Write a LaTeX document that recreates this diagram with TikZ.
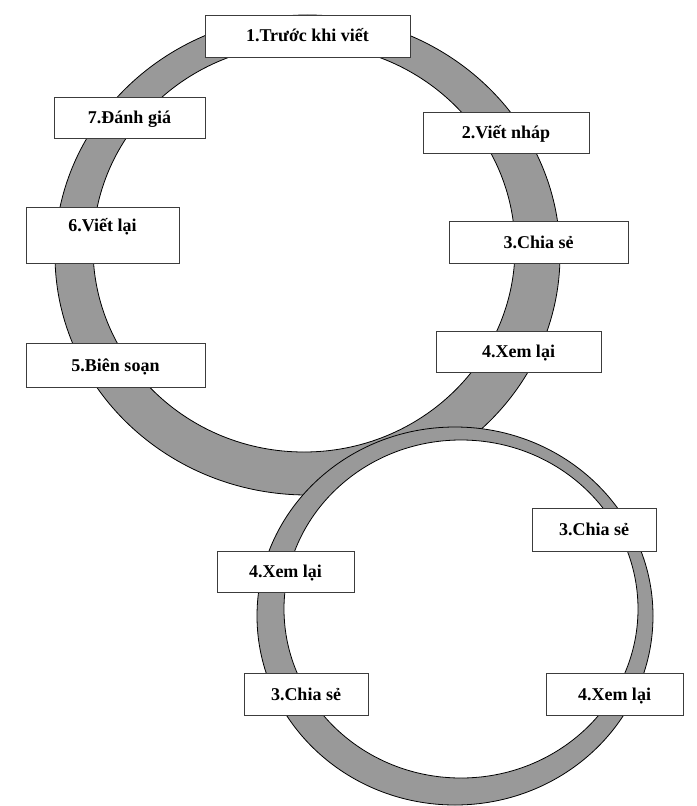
\documentclass[tikz,border=0pt]{standalone}
\usepackage{fontspec}
\setmainfont{Liberation Serif}
\usepackage{xcolor}
\usepackage{tikz}
\definecolor{ringgray}{RGB}{153,153,153}
\definecolor{boxline}{RGB}{60,60,60}

\begin{document}
\begin{tikzpicture}[x=1bp,y=-1bp,
    ring/.style={fill=ringgray, draw=black, line width=0.8bp},
    box/.style={draw=boxline, fill=white, line width=0.9bp, inner sep=0pt,
        text height=12bp, text depth=0bp,
        font=\fontsize{18bp}{20bp}\selectfont\bfseries}]
    \useasboundingbox (0,0) rectangle (697,806);

    % basics
    \filldraw[ring, even odd rule] (307.5,255) ellipse [x radius=252.5bp, y radius=240bp]
        (304,248) ellipse [x radius=211bp, y radius=204bp];
    \filldraw[ring] (455,616) ellipse [x radius=198bp, y radius=189bp];
    \filldraw[fill=white, draw=black, line width=0.8bp] (461,609) ellipse [x radius=177bp, y radius=169bp];

    % text
    \node[box, minimum width=205bp, minimum height=42bp] (truoc) at (307.5,36) {1.Trước khi viết};
    \node[box, minimum width=166bp, minimum height=41bp] (nhap) at (506,132.5) {2.Viết nháp};
    \node[box, minimum width=179bp, minimum height=42bp] (chiase) at (538.5,242) {3.Chia sẻ};
    \node[box, minimum width=165bp, minimum height=41bp] (xemlai) at (518.5,351.5) {4.Xem lại};
    \node[box, minimum width=179bp, minimum height=44bp] (biensoan) at (115.5,365) {5.Biên soạn};
    \node[box, minimum width=153bp, minimum height=56bp, text depth=20bp] (vietlai) at (102.5,235) {6.Viết lại};
    \node[box, minimum width=151bp, minimum height=41bp] (danhgia) at (129.5,117.5) {7.Đánh giá};

    \node[box, minimum width=124bp, minimum height=43bp] (chiasehai) at (594,529.5) {3.Chia sẻ};
    \node[box, minimum width=137bp, minimum height=41bp] (xemlaihai) at (285.5,571.5) {4.Xem lại};
    \node[box, minimum width=124bp, minimum height=42bp] (chiaseba) at (306,694) {3.Chia sẻ};
    \node[box, minimum width=137bp, minimum height=42bp] (xemlaiba) at (614.5,694) {4.Xem lại};

\end{tikzpicture}
\end{document}
